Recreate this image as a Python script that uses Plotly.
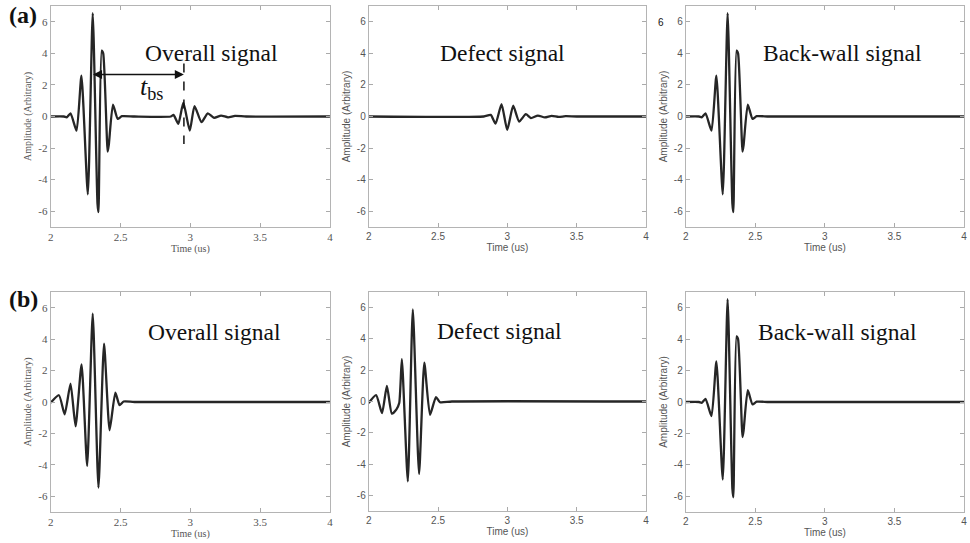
import plotly.graph_objects as go

W, H = 970, 543

# ---------------- data ----------------
# Back-wall echo (same in a and b)
bw_t = [2.0, 2.095, 2.115, 2.142, 2.185, 2.22, 2.266, 2.301, 2.335, 2.342, 2.365, 2.376, 2.408, 2.416, 2.446, 2.48, 2.51, 2.6, 4.0]
bw_y = [0.0, 0.0, -0.05, 0.2, -0.9, 2.58, -4.93, 6.55, -5.5, -6.06, 4.17, 4.0, -2.23, -1.8, 0.75, -0.15, 0.02, 0.0, 0.0]

# Defect echo, case (a)
da_t = [2.0, 2.83, 2.88, 2.915, 2.958, 2.999, 3.042, 3.085, 3.133, 3.17, 3.22, 3.27, 3.32, 3.37, 3.42, 3.5, 4.0]
da_y = [0.0, 0.0, 0.1, -0.45, 0.79, -0.85, 0.68, -0.32, 0.15, -0.1, 0.06, -0.06, 0.04, -0.03, 0.02, 0.0, 0.0]

# Overall signal, case (a)
oa_t = [2.0, 2.095, 2.115, 2.142, 2.185, 2.22, 2.266, 2.301, 2.335, 2.342, 2.365, 2.376, 2.408, 2.416, 2.446, 2.48, 2.51, 2.6,
        2.86, 2.88, 2.914, 2.95, 2.996, 3.03, 3.08, 3.125, 3.17, 3.22, 3.27, 3.32, 3.4, 4.0]
oa_y = [0.0, 0.0, -0.05, 0.2, -0.9, 2.58, -4.93, 6.55, -5.5, -6.06, 4.17, 4.0, -2.23, -1.8, 0.75, -0.15, 0.02, 0.0,
        0.0, 0.1, -0.47, 0.87, -0.89, 0.66, -0.36, 0.2, -0.08, 0.06, -0.05, 0.04, 0.0, 0.0]

# Overall signal, case (b)
ob_t = [2.0, 2.059, 2.1, 2.142, 2.178, 2.221, 2.261, 2.301, 2.342, 2.382, 2.422, 2.463, 2.493, 2.522, 2.6, 4.0]
ob_y = [-0.05, 0.43, -0.78, 1.17, -1.55, 2.4, -4.07, 5.63, -5.45, 3.72, -1.8, 0.6, -0.2, 0.03, 0.0, 0.0]

# Defect signal, case (b)
db_t = [2.0, 2.053, 2.096, 2.131, 2.167, 2.2, 2.22, 2.239, 2.282, 2.318, 2.363, 2.401, 2.442, 2.485, 2.514, 2.6, 4.0]
db_y = [-0.1, 0.4, -0.74, 1.0, -0.78, -0.5, -0.1, 2.7, -5.1, 5.88, -4.63, 2.48, -0.85, 0.28, -0.05, 0.0, 0.0]

panel_titles = ["Overall signal", "Defect signal", "Back-wall signal",
                "Overall signal", "Defect signal", "Back-wall signal"]
x_ticks = [2, 2.5, 3, 3.5, 4]
x_tick_text = ["2", "2.5", "3", "3.5", "4"]
y_ticks = [-6, -4, -2, 0, 2, 4, 6]
y_tick_text = ["-6", "-4", "-2", "0", "2", "4", "6"]
x_label = "Time (us)"
y_label = "Amplitude (Arbitrary)"

# tbs marker (time positions of the two echoes)
tbs_start, tbs_end = 2.292, 2.954

# ---------------- layout ----------------
series = [(oa_t, oa_y), (da_t, da_y), (bw_t, bw_y),
          (ob_t, ob_y), (db_t, db_y), (bw_t, bw_y)]

# pixel boxes of plot areas: (left, right, top, bottom)
boxes = [(48, 329, 6, 227), (368, 647, 6, 227), (687, 967, 6, 227),
         (48, 329, 292, 512), (368, 647, 292, 511), (687, 967, 292, 512)]

fig = go.Figure()
LINE = "#262626"
for i, ((tx, ty), (l, r, t, b)) in enumerate(zip(series, boxes)):
    n = i + 1
    xa = "x" if n == 1 else f"x{n}"
    ya = "y" if n == 1 else f"y{n}"
    fig.add_trace(go.Scatter(x=tx, y=ty, mode="lines", xaxis=xa, yaxis=ya,
                             line=dict(color=LINE, width=2.3, shape="spline", smoothing=0.55),
                             showlegend=False, hoverinfo="skip"))
    serif = (i % 3 == 0)
    fam = "Liberation Serif" if serif else "Liberation Sans"
    tfs = 11 if serif else 10
    common = dict(showline=True, linecolor="#b4b4b4", linewidth=1, mirror="ticks",
                  ticks="inside", ticklen=4, tickcolor="#aaaaaa", showgrid=False,
                  zeroline=False, tickfont=dict(family=fam, size=tfs, color="#555555"))
    xk = "xaxis" if n == 1 else f"xaxis{n}"
    yk = "yaxis" if n == 1 else f"yaxis{n}"
    fig.layout[xk] = dict(common, domain=[l / W, r / W], anchor=ya, range=[2, 4],
                          tickvals=x_ticks, ticktext=x_tick_text,
                          title=dict(text=x_label, standoff=2,
                                     font=dict(family=fam, size=10, color="#555555")))
    fig.layout[yk] = dict(common, domain=[1 - b / H, 1 - t / H], anchor=xa, range=[-7, 7],
                          tickvals=y_ticks, ticktext=y_tick_text,
                          title=dict(text=y_label, standoff=4,
                                     font=dict(family=fam, size=10, color="#555555")))

ann = []
title_pos = [(210, 53), (503, 53), (845, 53), (213, 332), (500, 331), (840, 332)]
for txt, (px, py) in zip(panel_titles, title_pos):
    ann.append(dict(text=txt, x=px / W, y=1 - py / H, xref="paper", yref="paper",
                    showarrow=False, xanchor="center", yanchor="middle",
                    font=dict(family="Liberation Serif", size=23.5, color="#111111")))
for txt, (px, py) in [("<b>(a)</b>", (20, 15)), ("<b>(b)</b>", (21, 299))]:
    ann.append(dict(text=txt, x=px / W, y=1 - py / H, xref="paper", yref="paper",
                    showarrow=False, xanchor="center", yanchor="middle",
                    font=dict(family="Liberation Serif", size=24, color="#111111")))
# t_bs label
ann.append(dict(text="<i>t</i><sub>bs</sub>", x=149 / W, y=1 - 88 / H, xref="paper", yref="paper",
                showarrow=False, xanchor="center", yanchor="middle",
                font=dict(family="Liberation Serif", size=26, color="#111111")))
# double arrow
ann.append(dict(x=tbs_end, y=2.66, ax=tbs_start, ay=2.66, xref="x", yref="y",
                axref="x", ayref="y", text="", showarrow=True, arrowhead=2,
                arrowside="end+start", arrowsize=1.4, arrowwidth=1.3, arrowcolor="#111111"))
# stray glyph seen in the reference
ann.append(dict(text="6", x=662 / W, y=1 - 22 / H, xref="paper", yref="paper",
                showarrow=False, xanchor="center", yanchor="middle",
                font=dict(family="Liberation Sans", size=10, color="#111111")))

fig.update_layout(
    annotations=ann,
    shapes=[dict(type="line", xref="x", yref="y", x0=tbs_end, x1=tbs_end, y0=3.36, y1=-1.74,
                 line=dict(color="#111111", width=1.5, dash="dash"))],
    width=W, height=H, margin=dict(l=0, r=0, t=0, b=0),
    paper_bgcolor="white", plot_bgcolor="white",
)

fig.write_html("out.html")
